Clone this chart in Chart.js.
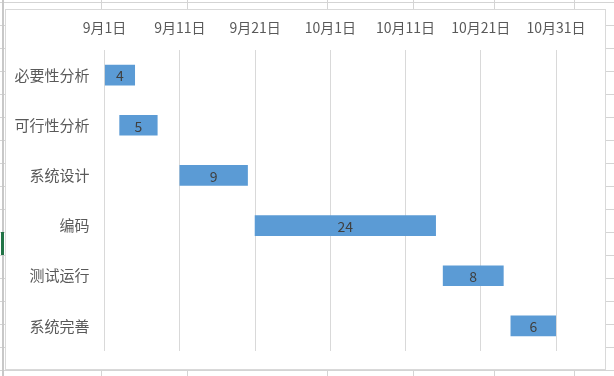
<!DOCTYPE html>
<html>
<head>
<meta charset="utf-8">
<script src="https://cdn.jsdelivr.net/npm/chart.js@4.4.1/dist/chart.umd.min.js"></script>
<style>
    html, body {
        margin: 0;
        padding: 0;
    }
    body {
        width: 614px;
        height: 376px;
        position: relative;
        overflow: hidden;
        background-color: #fff;
        /* spreadsheet cells behind the chart */
        background-image:
            linear-gradient(#c8c8c8, #c8c8c8),
            linear-gradient(90deg, transparent 101px, #d4d4d4 101px, #d4d4d4 102px, transparent 102px,
                transparent 187px, #d4d4d4 187px, #d4d4d4 188px, transparent 188px,
                transparent 327px, #d4d4d4 327px, #d4d4d4 328px, transparent 328px,
                transparent 413px, #d4d4d4 413px, #d4d4d4 414px, transparent 414px,
                transparent 494px, #d4d4d4 494px, #d4d4d4 495px, transparent 495px,
                transparent 574px, #d4d4d4 574px, #d4d4d4 575px, transparent 575px),
            repeating-linear-gradient(180deg, #d4d4d4 0px, #d4d4d4 1px, transparent 1px, transparent 23px);
        background-size: 2px 376px, 614px 376px, 614px 376px;
        background-position: 2px 0, 0 0, 0 2px;
        background-repeat: no-repeat, no-repeat, repeat;
    }
    .sel {
        position: absolute;
        left: 1px;
        top: 232px;
        width: 3px;
        height: 23px;
        background: #217346;
    }
    .box {
        position: absolute;
        left: 5px;
        top: 9px;
        width: 599px;
        height: 359px;
        border: 1px solid #d9d9d9;
        background: #fff;
    }
    canvas {
        display: block;
    }
</style>
</head>
<body>
<div class="sel"></div>
<div class="box"><canvas id="ganttChart"></canvas></div>
<script>
    // Tasks and schedule (days counted from 9月1日)
    const tasks = ['必要性分析', '可行性分析', '系统设计', '编码', '测试运行', '系统完善'];
    const startDay = [0, 2, 10, 20, 45, 54];
    const duration = [4, 5, 9, 24, 8, 6];
    const tickLabels = ['9月1日', '9月11日', '9月21日', '10月1日', '10月11日', '10月21日', '10月31日'];

    // Draw the duration number in the middle of each bar
    const barLabels = {
        id: 'barLabels',
        afterDatasetsDraw(chart) {
            const ctx = chart.ctx;
            const meta = chart.getDatasetMeta(0);
            ctx.save();
            ctx.font = '14px "Noto Sans CJK SC", "DejaVu Sans", sans-serif';
            ctx.fillStyle = '#404040';
            ctx.textAlign = 'center';
            ctx.textBaseline = 'middle';
            meta.data.forEach((bar, i) => {
                const cx = (bar.x + bar.base) / 2;
                ctx.fillText(String(duration[i]), cx, bar.y + 1);
            });
            ctx.restore();
        }
    };

    const canvas = document.getElementById('ganttChart');
    canvas.width = 599;
    canvas.height = 359;
    const ganttChart = new Chart(canvas.getContext('2d'), {
        type: 'bar',
        data: {
            labels: tasks,
            datasets: [{
                label: '工期',
                data: startDay.map((s, i) => [s, s + duration[i]]),
                backgroundColor: '#5b9bd5',
                borderWidth: 0,
                barThickness: 20,
                borderSkipped: false
            }]
        },
        plugins: [barLabels],
        options: {
            indexAxis: 'y',
            responsive: false,
            animation: false,
            layout: {
                padding: { left: 0, right: 49, top: 0, bottom: 18 }
            },
            plugins: {
                legend: { display: false },
                tooltip: { enabled: false }
            },
            scales: {
                x: {
                    type: 'linear',
                    position: 'top',
                    min: 0,
                    max: 60,
                    afterFit: scale => { scale.height = 40; },
                    ticks: {
                        stepSize: 10,
                        padding: 14,
                        color: '#595959',
                        font: { family: '"Noto Sans CJK SC", sans-serif', size: 14 },
                        callback: v => tickLabels[v / 10]
                    },
                    grid: { color: '#d9d9d9', drawTicks: false },
                    border: { display: false }
                },
                y: {
                    afterFit: scale => { scale.width = 98.6; },
                    ticks: {
                        padding: 7,
                        color: '#595959',
                        font: { family: '"Noto Sans CJK SC", sans-serif', size: 15 }
                    },
                    grid: { display: false },
                    border: { display: false }
                }
            }
        }
    });
</script>
</body>
</html>
